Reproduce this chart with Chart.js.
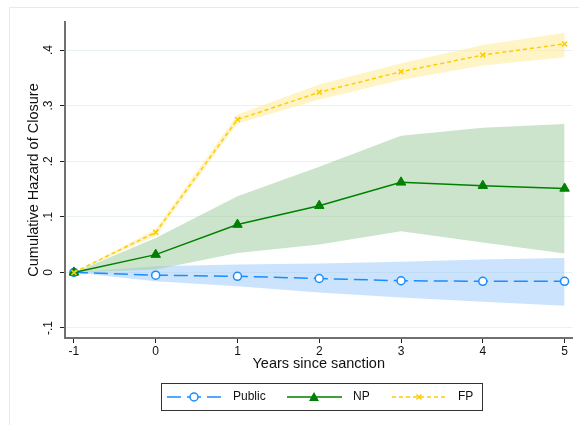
<!DOCTYPE html>
<html>
<head>
<meta charset="utf-8">
<script src="https://cdn.jsdelivr.net/npm/chart.js@4"></script>
<style>
  html, body { margin: 0; padding: 0; background: #fff; }
  #wrap { width: 579px; height: 425px; position: relative; }
</style>
</head>
<body>
<div id="wrap"><canvas id="myChart" width="579" height="425"></canvas></div>
<script>
// data
const years = [-1, 0, 1, 2, 3, 4, 5];
const yTicks = [-0.1, 0, 0.1, 0.2, 0.3, 0.4];

const publicEst = [0, -0.005, -0.007, -0.011, -0.015, -0.016, -0.016];
const publicHi  = [0, 0.011, 0.014, 0.016, 0.019, 0.023, 0.026];
const publicLo  = [0, -0.016, -0.025, -0.036, -0.045, -0.053, -0.060];

const npEst = [0, 0.032, 0.086, 0.120, 0.162, 0.156, 0.151];
const npHi  = [0, 0.062, 0.137, 0.190, 0.246, 0.260, 0.267];
const npLo  = [0, 0.005, 0.035, 0.050, 0.074, 0.054, 0.034];

const fpEst = [0, 0.072, 0.275, 0.324, 0.361, 0.391, 0.411];
const fpHi  = [0, 0.078, 0.284, 0.338, 0.376, 0.409, 0.431];
const fpLo  = [0, 0.066, 0.268, 0.311, 0.346, 0.372, 0.387];

const BLUE = '#1a8cff', GREEN = '#008000', GOLD = '#ffcc00';
const FONT = "'Liberation Sans', Arial, sans-serif";

const pts = arr => years.map((x, i) => ({ x: x, y: arr[i] }));

// stata style numbers: .4, -.1, 0
const stataNum = v => {
    const r = Math.round(v * 10) / 10;
    if (r === 0) return '0';
    return (r < 0 ? '-' : '') + String(Math.abs(r)).replace(/^0/, '');
};

function band(hi, lo, color) {
    return [{
        data: pts(hi), fill: '+1', backgroundColor: color,
        borderWidth: 0, pointRadius: 0, order: 10, isBand: true
    }, {
        data: pts(lo), fill: false, borderWidth: 0, pointRadius: 0, order: 10, isBand: true
    }];
}

const frame = {
    id: 'frame',
    beforeDraw(chart) {
        const ctx = chart.ctx;
        ctx.save();
        ctx.strokeStyle = '#e4ebeb';
        ctx.lineWidth = 1;
        ctx.beginPath();
        ctx.moveTo(9.5, 425);
        ctx.lineTo(9.5, 7.5);
        ctx.lineTo(579, 7.5);
        ctx.stroke();
        ctx.restore();
    }
};

// legend box with line + marker samples
const stataLegend = {
    id: 'stataLegend',
    afterDraw(chart) {
        const ctx = chart.ctx;
        ctx.save();
        ctx.strokeStyle = '#333';
        ctx.lineWidth = 1;
        ctx.strokeRect(161.5, 383.5, 321, 27);
        const cy = 397;
        const items = chart.data.datasets.filter(d => !d.isBand);
        const xs = [167, 287, 392];
        items.forEach((d, i) => {
            const x0 = xs[i], x1 = x0 + 55, mx = x0 + 27;
            ctx.strokeStyle = d.borderColor;
            ctx.lineWidth = d.borderWidth;
            ctx.setLineDash(d.borderDash || []);
            ctx.beginPath();
            ctx.moveTo(x0, cy); ctx.lineTo(x1, cy);
            ctx.stroke();
            ctx.setLineDash([]);
            ctx.fillStyle = d.pointBackgroundColor;
            ctx.strokeStyle = d.borderColor;
            ctx.lineWidth = d.pointBorderWidth || 1;
            if (d.pointStyle === 'circle') {
                ctx.fillStyle = '#fff';
                ctx.beginPath(); ctx.arc(mx, cy, 4, 0, Math.PI * 2); ctx.fill(); ctx.stroke();
            } else if (d.pointStyle === 'triangle') {
                ctx.beginPath();
                ctx.moveTo(mx, cy - 5); ctx.lineTo(mx + 5, cy + 4); ctx.lineTo(mx - 5, cy + 4);
                ctx.closePath(); ctx.fill();
            } else {
                ctx.beginPath();
                ctx.moveTo(mx - 2.5, cy - 2.5); ctx.lineTo(mx + 2.5, cy + 2.5);
                ctx.moveTo(mx + 2.5, cy - 2.5); ctx.lineTo(mx - 2.5, cy + 2.5);
                ctx.stroke();
            }
            ctx.fillStyle = '#111';
            ctx.font = '12px ' + FONT;
            ctx.textBaseline = 'middle';
            ctx.fillText(d.label, x1 + 11, cy);
        });
        ctx.restore();
    }
};

new Chart(document.getElementById('myChart').getContext('2d'), {
    type: 'line',
    data: {
        datasets: [
            ...band(fpHi, fpLo, 'rgba(255, 236, 160, 0.6)'),
            ...band(npHi, npLo, 'rgba(160, 206, 160, 0.55)'),
            ...band(publicHi, publicLo, 'rgba(160, 204, 250, 0.55)'),
            {
                label: 'Public', data: pts(publicEst), borderColor: BLUE, borderWidth: 1.5,
                borderDash: [14, 6], pointStyle: 'circle', pointRadius: 4,
                pointBackgroundColor: '#fff', pointBorderColor: BLUE, pointBorderWidth: 1.5,
                fill: false, order: 3
            },
            {
                label: 'NP', data: pts(npEst), borderColor: GREEN, borderWidth: 1.5,
                pointStyle: 'triangle', pointRadius: 5.5,
                pointBackgroundColor: GREEN, pointBorderColor: GREEN, pointBorderWidth: 1,
                fill: false, order: 2
            },
            {
                label: 'FP', data: pts(fpEst), borderColor: GOLD, borderWidth: 1.5,
                borderDash: [4, 3], pointStyle: 'crossRot', pointRadius: 3.5,
                pointBackgroundColor: GOLD, pointBorderColor: GOLD, pointBorderWidth: 1.5,
                fill: false, order: 1
            }
        ]
    },
    options: {
        responsive: false,
        animation: false,
        layout: { padding: { left: 10, top: 22, right: 3, bottom: 0 } },
        plugins: {
            legend: { display: false },
            tooltip: { enabled: false }
        },
        elements: { line: { tension: 0 } },
        scales: {
            x: {
                type: 'linear',
                min: -1.109, max: 5.097,
                afterBuildTicks: s => { s.ticks = years.map(v => ({ value: v })); },
                afterFit: s => { s.height = 87; },
                grid: { drawOnChartArea: false, drawTicks: true, tickLength: 5, tickColor: '#222' },
                border: { color: '#707070', width: 2 },
                ticks: { color: '#111', padding: 1, font: { family: FONT, size: 12 },
                         maxRotation: 0, callback: v => String(v) },
                title: { display: true, text: 'Years since sanction', color: '#111',
                         font: { family: FONT, size: 14.5 }, padding: { top: 0, bottom: 52 } }
            },
            y: {
                min: -0.118, max: 0.4504,
                afterBuildTicks: s => { s.ticks = yTicks.map(v => ({ value: v })); },
                afterFit: s => { s.width = 55; },
                grid: { color: '#e9f1f2', lineWidth: 1, drawTicks: true, tickLength: 5, tickColor: '#222' },
                border: { color: '#707070', width: 2 },
                ticks: { color: '#111', padding: 4, font: { family: FONT, size: 12 },
                         minRotation: 90, maxRotation: 90, crossAlign: 'center',
                         callback: v => stataNum(v) },
                title: { display: true, text: 'Cumulative Hazard of Closure', color: '#111',
                         font: { family: FONT, size: 14.5 }, padding: { top: 15, bottom: 0 } }
            }
        }
    },
    plugins: [frame, stataLegend]
});
</script>
</body>
</html>
